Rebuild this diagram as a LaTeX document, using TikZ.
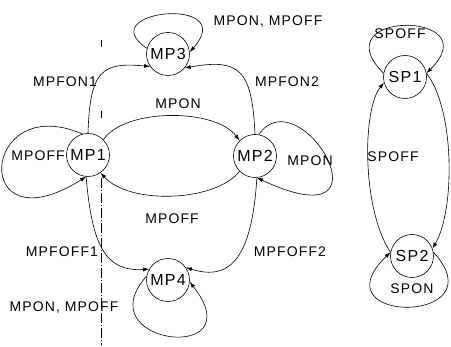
\documentclass[tikz,border=0pt]{standalone}
\usepackage{fontspec}
\setmainfont{Liberation Sans}
\newfontfamily\lblfont{Liberation Sans}[LetterSpace=8]
\usetikzlibrary{arrows.meta}
\tikzset{
  stnode/.style={circle,draw,fill=white,inner sep=0pt,minimum size=43pt,
    font=\lblfont\fontsize{16}{18}\selectfont},
  lbl/.style={inner sep=0pt,font=\lblfont\fontsize{14}{16}\selectfont},
  tr/.style={-{Latex[length=6pt,width=4pt]}},
}

\begin{document}
\begin{tikzpicture}[x=1pt,y=-1pt,line width=0.6pt]
\useasboundingbox (0,0) rectangle (451,347);

% divider
\coordinate (cuttop) at (101,40);
\coordinate (cutmid) at (101,178);
\coordinate (cutbot) at (101,345);
\draw[dash pattern=on 7pt off 64pt] (cuttop) -- (cutmid);
\draw[dash pattern=on 10pt off 2pt on 1pt off 2pt] (cutmid) -- (cutbot);

% master states
\draw (88,155) node[stnode] (mp1) {MP1};
\draw (255,156) node[stnode] (mp2) {MP2};
\draw (168,54) node[stnode] (mp3) {MP3};
\draw (168,280) node[stnode] (mp4) {MP4};

% slave states
\draw (405,77) node[stnode] (sp1) {SP1};
\draw (412,256) node[stnode] (sp2) {SP2};

% labels
\draw (268,22) node[lbl] (l3loop) {MPON, MPOFF};
\draw (65,82) node[lbl] (lfon1) {MPFON1};
\draw (287,82) node[lbl] (lfon2) {MPFON2};
\draw (178,104) node[lbl] (lon) {MPON};
\draw (38,156) node[lbl] (l1loop) {MPOFF};
\draw (310,161) node[lbl] (l2loop) {MPON};
\draw (172,219) node[lbl] (loff) {MPOFF};
\draw (62,252) node[lbl] (lfoff1) {MPFOFF1};
\draw (290,252) node[lbl] (lfoff2) {MPFOFF2};
\draw (64,308) node[lbl] (l4loop) {MPON, MPOFF};
\draw (400,34) node[lbl] (ls1loop) {SPOFF};
\draw (393,157) node[lbl] (lsoff) {SPOFF};
\draw (412,289) node[lbl] (ls2loop) {SPON};

% master transitions
\draw[tr] (mp3.165) .. controls (90,10) and (240,-5) .. (mp3.5);
\draw[tr] (mp1.north) .. controls (90,70) and (102,62) .. (mp3.215);
\draw[tr] (mp2.north) .. controls (252,70) and (240,58) .. (mp3.320);
\draw[tr] (mp1.45) .. controls (125,108) and (215,108) .. (mp2.135);
\draw[tr] (mp2.225) .. controls (215,202) and (130,205) .. (mp1.305);
\draw[tr] (mp1.105) .. controls (-20,90) and (-30,250) .. (mp1.265);
\draw[tr] (mp2.80) .. controls (300,75) and (400,245) .. (mp2.275);
\draw[tr] (mp1.265) .. controls (92,245) and (105,272) .. (mp4.150);
\draw[tr] (mp2.275) .. controls (252,255) and (232,282) .. (mp4.35);
\draw[tr] (mp4.170) .. controls (85,345) and (255,365) .. (mp4.355);

% slave transitions
\draw[tr] (sp1.170) .. controls (320,10) and (490,10) .. (sp1.10);
\draw[tr] (sp2.170) .. controls (362,210) and (362,110) .. (sp1.195);
\draw[tr] (sp1.10) .. controls (455,110) and (455,210) .. (sp2.20);
\draw[tr] (sp2.10) .. controls (500,325) and (315,325) .. (sp2.170);
\end{tikzpicture}
\end{document}
